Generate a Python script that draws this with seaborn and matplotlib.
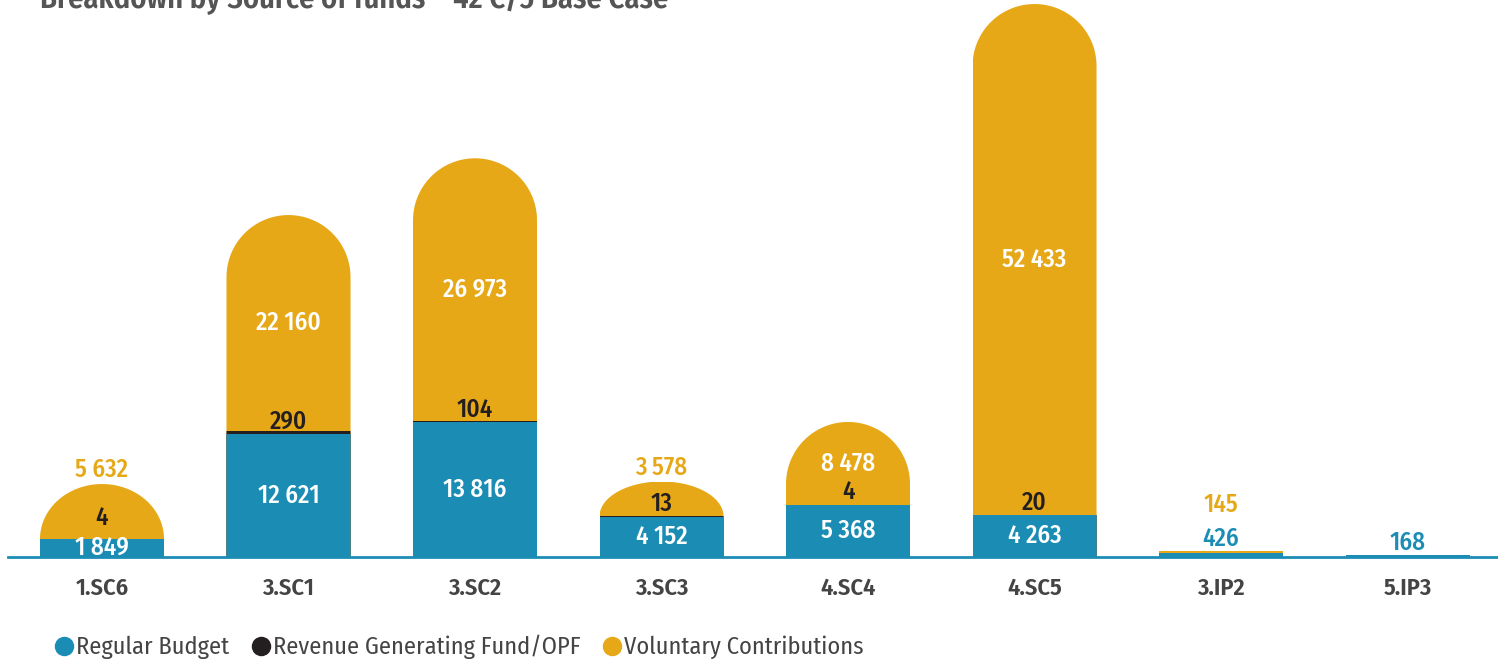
import numpy as np
import pandas as pd
import matplotlib
matplotlib.use("Agg")
import matplotlib.pyplot as plt
from matplotlib.path import Path
from matplotlib.lines import Line2D
import seaborn as sns

# data
categories = ["1.SC6", "3.SC1", "3.SC2", "3.SC3", "4.SC4", "4.SC5", "3.IP2", "5.IP3"]
regular_budget = [1849, 12621, 13816, 4152, 5368, 4263, 426, 168]
revenue_fund = [4, 290, 104, 13, 4, 20, 0, 0]
voluntary = [5632, 22160, 26973, 3578, 8478, 52433, 145, 0]

BLUE = "#1b8db5"
BLACK = "#231f20"
GOLD = "#e6a817"
GREY = "#444444"

sns.set_style("white")
plt.rcParams["font.family"] = ["Fira Sans Condensed", "PT Sans Narrow", "Roboto Condensed",
                               "Sofia Sans Condensed", "DejaVu Sans"]

df = pd.DataFrame({"cat": categories, "rb": regular_budget,
                   "rgf": revenue_fund, "vc": voluntary})
df["rb_rgf"] = df["rb"] + df["rgf"]
df["total"] = df["rb_rgf"] + df["vc"]

fig = plt.figure(figsize=(14.98, 6.71), dpi=100)
W, H = 1498, 671
ax = fig.add_axes([8 / W, 114 / H, 1490 / W, 557 / H])

bw = 0.665
# stacked by overdrawing cumulative sums
sns.barplot(data=df, x="cat", y="total", order=categories, color=GOLD,
            width=bw, linewidth=0, errorbar=None, saturation=1, ax=ax)
sns.barplot(data=df, x="cat", y="rb_rgf", order=categories, color=BLACK,
            width=bw, linewidth=0, errorbar=None, saturation=1, ax=ax)
sns.barplot(data=df, x="cat", y="rb", order=categories, color=BLUE,
            width=bw, linewidth=0, errorbar=None, saturation=1, ax=ax)

xlim = (-0.504, 7.485)
ylim = (0, 57128)
ax.set_xlim(*xlim)
ax.set_ylim(*ylim)

# rounded tops: the voluntary segment gets a half-ellipse cap
sx = 1490 / (xlim[1] - xlim[0])
sy = 557 / (ylim[1] - ylim[0])
hw = bw / 2
ry = hw * sx / sy
clips = []
for i, (t, vc) in enumerate(zip(df["total"], df["vc"])):
    ri = min(ry, vc) if vc > 0.3 * ry else 0
    if ri > 0:
        th = np.linspace(np.pi, 0, 60)
        pts = [(i - hw, 0)] + list(zip(i + hw * np.cos(th), t - ri + ri * np.sin(th))) + [(i + hw, 0), (i - hw, 0)]
    else:
        pts = [(i - hw, 0), (i - hw, t), (i + hw, t), (i + hw, 0), (i - hw, 0)]
    clips.append(Path(pts, closed=True))
for p in ax.patches:
    idx = int(round(p.get_x() + p.get_width() / 2))
    p.set_clip_path(clips[idx], ax.transData)


def fmt(v):
    return f"{v:,}".replace(",", " ")


# value labels
fs = 18
kw = dict(ha="center", fontsize=fs, fontweight="medium")
for i, r in df.iterrows():
    rb, rgf, vc, top = r["rb"], r["rgf"], r["vc"], r["total"]
    blue_above = rb < 1000
    if blue_above:
        ax.annotate(fmt(rb), (i, top), xytext=(0, 0), textcoords="offset points",
                    va="bottom", color=BLUE, **kw)
    else:
        ax.annotate(fmt(rb), (i, rb / 2), va="center", color="white", **kw)
    if rgf > 0:
        # short blue segment: its label spills upward, so lift this one
        lift = 6 if rb * sy < 25 else 0
        ax.annotate(fmt(rgf), (i, rb), xytext=(0, lift), textcoords="offset points",
                    va="bottom", color=BLACK, **kw)
    if vc > 0:
        if vc > 8000:
            ax.annotate(fmt(vc), (i, rb + rgf + vc / 2), va="center", color="white", **kw)
        else:
            off = 25 if blue_above else 1
            ax.annotate(fmt(vc), (i, top), xytext=(0, off), textcoords="offset points",
                        va="bottom", color=GOLD, **kw)

for s in ["top", "right", "left"]:
    ax.spines[s].set_visible(False)
ax.spines["bottom"].set_color(BLUE)
ax.spines["bottom"].set_linewidth(2)
ax.set_yticks([])
ax.set_xlabel("")
ax.set_ylabel("")
ax.tick_params(axis="x", length=0, pad=14)
for lab in ax.get_xticklabels():
    lab.set_fontsize(17.5)
    lab.set_fontweight("semibold")
    lab.set_color(GREY)

fig.text(40 / W, 1 - 8 / H, "Breakdown by Source of funds \u2013 42 C/5 Base Case",
         ha="left", va="baseline", fontsize=22, fontweight="semibold", color="#555555")

handles = [Line2D([], [], marker="o", ls="", color=c, markersize=13)
           for c in (BLUE, BLACK, GOLD)]
fig.legend(handles, ["Regular Budget", "Revenue Generating Fund/OPF", "Voluntary Contributions"],
           loc="center left", bbox_to_anchor=(54 / W, 1 - 647 / H), ncol=3,
           frameon=False, fontsize=17.5, handlelength=0.8, handletextpad=0.1,
           columnspacing=0.9, labelcolor=GREY, borderaxespad=0, borderpad=0)

fig.savefig("out.png", dpi=100)
